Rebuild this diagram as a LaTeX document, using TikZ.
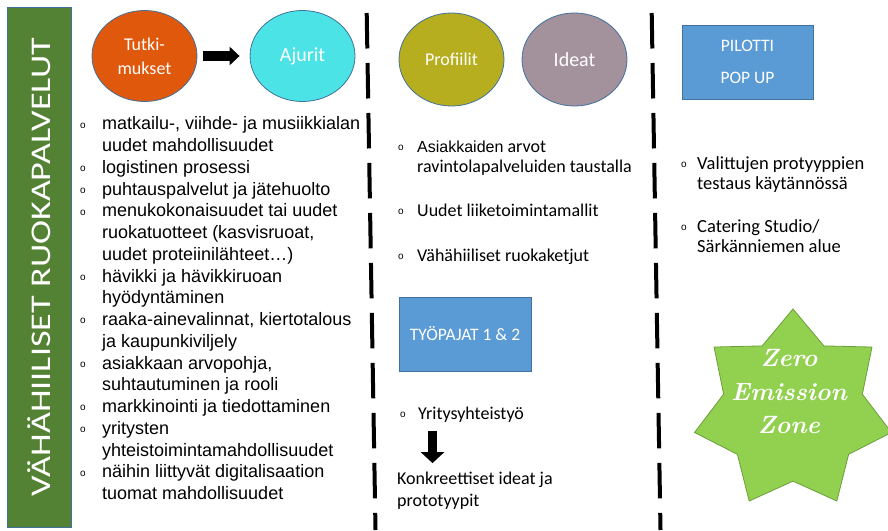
\documentclass[tikz,border=0pt]{standalone}
\usepackage{fontspec}
\setmainfont{Carlito}
\newfontfamily\arialf{Liberation Sans}
\newfontfamily\zfont{Latin Modern Roman}
\usepackage{graphicx}
\usetikzlibrary{shapes.geometric,arrows.meta}
\definecolor{barGreen}{HTML}{548235}
\definecolor{tutkOrange}{HTML}{E0580C}
\definecolor{ajurCyan}{HTML}{4CE3E6}
\definecolor{profOlive}{HTML}{B6AE1E}
\definecolor{ideaMauve}{HTML}{A3919C}
\definecolor{boxBlue}{HTML}{5B9BD5}
\definecolor{edgeBlue}{HTML}{41719C}
\definecolor{starGreen}{HTML}{92D050}
\definecolor{starEdge}{HTML}{6A9F3A}
\newcommand{\bul}{\raisebox{1.8pt}{\arialf\fontsize{10}{10}\selectfont o}}
\tikzset{
  bubble/.style={ellipse, draw=edgeBlue, line width=0.8pt, minimum width=105pt,
    minimum height=91pt, inner sep=0pt, text=white, align=center},
  bluebox/.style={rectangle, fill=boxBlue, draw=edgeBlue, line width=0.8pt,
    minimum width=131pt, minimum height=74pt, text=white, align=center,
    font=\fontsize{17.5}{32}\selectfont},
  listtxt/.style={inner sep=0pt, anchor=north west},
  sep/.style={line width=4pt, dash pattern=on 35.5pt off 14.5pt},
  rarrow/.style={line width=10pt, -{Triangle[length=10pt,width=18pt]}},
  darrow/.style={line width=9pt, -{Triangle[length=11pt,width=23pt]}},
}
\begin{document}
\begin{tikzpicture}[x=1pt, y=-1pt, line join=miter]
	\useasboundingbox (0,0) rectangle (888,530);
	% title bar
	\node[fill=barGreen, draw=edgeBlue, line width=0.8pt, rotate=90, minimum width=520pt,
	  minimum height=64pt, inner sep=0pt, text=white, font=\fontsize{28.5}{30}\selectfont]
	  (title) at (39,267) {\scalebox{1.27}[1]{VÄHÄHIILISET RUOKAPALVELUT}};
	% column separators
	\draw[sep] (366.7,13) -- (375.5,530);
	\draw[sep] (651.7,13) -- (660.5,530);
	% bubbles
	\node[bubble, fill=tutkOrange, font=\fontsize{18}{24}\selectfont] (tutk) at (144.5,56) {Tutki-\\mukset};
	\node[bubble, fill=ajurCyan, font=\fontsize{20}{24}\selectfont] (ajurit) at (302.5,56) {Ajurit};
	\draw[rarrow, shorten <=6pt, shorten >=10pt] (tutk) -- (ajurit);
	\node[bubble, fill=profOlive, minimum height=93pt, font=\fontsize{18}{24}\selectfont] (prof) at (451.5,59.5) {Profiilit};
	\node[bubble, fill=ideaMauve, minimum height=93pt, font=\fontsize{20}{24}\selectfont] (ideat) at (574.5,59.5) {Ideat};
	% boxes
	\node[bluebox] (pilotti) at (747.5,62) {PILOTTI\\POP UP};
	\node[bluebox, minimum width=132pt] (tyopajat) at (465,334) {TYÖPAJAT 1 \& 2};
	% left list
	\node[listtxt, font=\arialf\fontsize{18}{21.75}\selectfont] (drivers) at (80,114.5) {%
	\begin{tabular}{@{}p{22pt}@{}l@{}}
	\bul & matkailu-, viihde- ja musiikkialan\\
	     & uudet mahdollisuudet\\
	\bul & logistinen prosessi\\
	\bul & puhtauspalvelut ja jätehuolto\\
	\bul & menukokonaisuudet tai uudet\\
	     & ruokatuotteet (kasvisruoat,\\
	     & uudet proteiinilähteet…)\\
	\bul & hävikki ja hävikkiruoan\\
	     & hyödyntäminen\\
	\bul & raaka-ainevalinnat, kiertotalous\\
	     & ja kaupunkiviljely\\
	\bul & asiakkaan arvopohja,\\
	     & suhtautuminen ja rooli\\
	\bul & markkinointi ja tiedottaminen\\
	\bul & yritysten\\
	     & yhteistoimintamahdollisuudet\\
	\bul & näihin liittyvät digitalisaation\\
	     & tuomat mahdollisuudet
	\end{tabular}};
	% middle list
	\node[listtxt, font=\fontsize{18}{20}\selectfont] (values) at (398,138) {%
	\begin{tabular}{@{}p{19pt}@{}l@{}}
	\bul & {\arialf\fontsize{16}{20}\selectfont Asiakkaiden} arvot\\
	     & ravintolapalveluiden taustalla\\[24pt]
	\bul & Uudet liiketoimintamallit\\[25pt]
	\bul & Vähähiiliset ruokaketjut
	\end{tabular}};
	\node[listtxt, font=\fontsize{18}{20}\selectfont] (yrit) at (400,405) {%
	\begin{tabular}{@{}p{18pt}@{}l@{}}
	\bul & Yritysyhteistyö
	\end{tabular}};
	\node[listtxt, font=\fontsize{18}{22}\selectfont] (konk) at (397,468.6) {%
	\begin{tabular}{@{}l@{}}
	Konkreettiset ideat ja\\
	prototyypit
	\end{tabular}};
	\coordinate (dx) at (432.5,0);
	\draw[darrow, shorten <=6pt, shorten >=5.5pt] (yrit.south -| dx) -- (konk.north -| dx);
	% right list
	\node[listtxt, font=\fontsize{18.5}{20}\selectfont] (pilots) at (681,155) {%
	\begin{tabular}{@{}p{16pt}@{}l@{}}
	\bul & Valittujen protyyppien\\
	     & testaus käytännössä\\[23pt]
	\bul & Catering Studio/\\
	     & Särkänniemen alue
	\end{tabular}};
	% star
	\node[star, star points=7, star point ratio=1.42, minimum size=202pt, inner sep=0pt,
	  fill=starGreen, draw=starEdge, line width=0.8pt] (zez) at (793,410) {};
	\node[text=white, align=center, font=\zfont\bfseries\itshape\fontsize{25}{33.5}\selectfont]
	  (zeztxt) at (789,392) {Zero\\Emission\\Zone};
\end{tikzpicture}
\end{document}
